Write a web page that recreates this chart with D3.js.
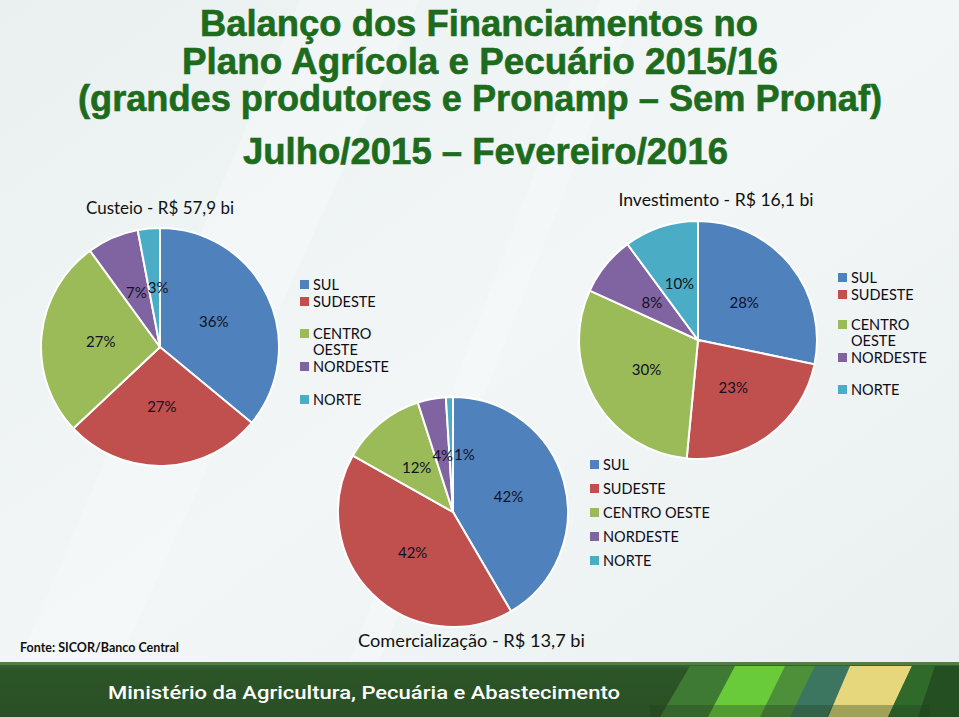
<!DOCTYPE html>
<html><head><meta charset="utf-8">
<script src="https://cdn.jsdelivr.net/npm/d3@7"></script>
<style>html,body{margin:0;padding:0;overflow:hidden;background:#eef3f3}</style>
</head><body>
<script>
const regions = ["SUL","SUDESTE","CENTRO OESTE","NORDESTE","NORTE"];
const regionColors = ["#4F81BD","#C0504D","#9BBB59","#8064A2","#4BACC6"];
const custeioValues = [36,27,27,7,3];
const investimentoValues = [28,23,30,8,10];
const comercializacaoValues = [42,42,12,4,1];
const titleLines = ["Balanço dos Financiamentos no","Plano Agrícola e Pecuário 2015/16","(grandes produtores e Pronamp – Sem Pronaf)"];
const periodText = "Julho/2015 – Fevereiro/2016";
const chartTitles = ["Custeio - R$ 57,9 bi","Investimento - R$ 16,1 bi","Comercialização - R$ 13,7 bi"];
const sourceText = "Fonte: SICOR/Banco Central";
const ministryText = "Ministério da Agricultura, Pecuária e Abastecimento";

const W=959,H=717;
const svg=d3.select("body").append("svg").attr("width",W).attr("height",H);
const defs=svg.append("defs");
const bg=defs.append("linearGradient").attr("id","bg").attr("x1","0").attr("y1","0").attr("x2","1").attr("y2","1");
bg.append("stop").attr("offset","0").attr("stop-color","#eaf0f0");
bg.append("stop").attr("offset","0.5").attr("stop-color","#f2f6f6");
bg.append("stop").attr("offset","1").attr("stop-color","#e9efef");
svg.append("rect").attr("width",W).attr("height",H).attr("fill","url(#bg)");
[[300,0,420,0,120,660,20,660],[600,0,640,0,380,660,350,660]].forEach(p=>{
  svg.append("polygon").attr("points",[[p[0],p[1]],[p[2],p[3]],[p[4],p[5]],[p[6],p[7]]].join(" ")).attr("fill","#ffffff").attr("opacity",0.25);
});

// titles
const tg=svg.append("g").attr("font-family","'Liberation Sans',Arial,sans-serif").attr("font-weight","bold")
  .attr("fill","#1d6b1d").attr("stroke","#1d6b1d").attr("stroke-width",0.6).attr("text-anchor","middle").attr("font-size",36);
const titleSpec=[{y:36,x:479,w:558},{y:74,x:480,w:596},{y:111,x:480,w:804}];
titleLines.forEach((t,i)=>tg.append("text").attr("x",titleSpec[i].x).attr("y",titleSpec[i].y)
  .attr("textLength",titleSpec[i].w).attr("lengthAdjust","spacingAndGlyphs").text(t));
tg.append("text").attr("x",485.5).attr("y",164).attr("textLength",485).attr("lengthAdjust","spacingAndGlyphs").text(periodText);

const FONT="Lato,'Open Sans',sans-serif";
const arcCfg=[
 {vals:custeioValues,cx:160,cy:347,r:119,title:chartTitles[0],tx:160,ty:214,fs:17,
  legend:{x:300,ys:[285,302,334,367,400],split:true,lh:16}},
 {vals:investimentoValues,cx:698,cy:340,r:119,title:chartTitles[1],tx:716,ty:206,fs:17.6,
  legend:{x:838,ys:[278,295,325,358,390],split:true,lh:16}},
 {vals:comercializacaoValues,cx:453,cy:512,r:115,title:chartTitles[2],tx:471.5,ty:647,fs:18.2,
  legend:{x:590,ys:[465,489,513,537,561],split:false,lh:16}}
];
const pie=d3.pie().sort(null).value(d=>d);
arcCfg.forEach(cfg=>{
  const g=svg.append("g").attr("transform",`translate(${cfg.cx},${cfg.cy})`);
  const arc=d3.arc().innerRadius(0).outerRadius(cfg.r);
  const la=d3.arc().innerRadius(cfg.r*0.5).outerRadius(cfg.r*0.5);
  const arcs=pie(cfg.vals);
  g.selectAll("path").data(arcs).join("path").attr("d",arc)
   .attr("fill",(d,i)=>regionColors[i]).attr("stroke","#ffffff").attr("stroke-width",2);
  const labels=g.selectAll("text").data(arcs).join("text")
   .attr("text-anchor","middle").attr("dy","0.35em")
   .attr("font-family",FONT).attr("font-size",15).attr("fill","#111122")
   .text(d=>d.data+"%");
  const pos=[];
  labels.each(function(d,i){
    const c=la.centroid(d);const w=this.getComputedTextLength();
    let x=c[0],y=c[1];
    if(i>0){const p=pos[i-1];
      if(Math.abs(p.y-y)<14 && Math.abs(p.x-x)<(p.w+w)/2+1){x=p.x+(p.w+w)/2+1;}
    }
    pos.push({x,y,w});
    d3.select(this).attr("transform",`translate(${x},${y})`);
  });
  svg.append("text").attr("x",cfg.tx).attr("y",cfg.ty).attr("text-anchor","middle")
   .attr("font-family",FONT).attr("font-size",cfg.fs).attr("fill","#111").text(cfg.title);
  const lg=svg.append("g").attr("font-family",FONT).attr("font-size",14.5).attr("fill","#0d0d1a");
  regions.forEach((r,i)=>{
    const y=cfg.legend.ys[i];
    lg.append("rect").attr("x",cfg.legend.x).attr("y",y-5).attr("width",9).attr("height",9).attr("fill",regionColors[i]);
    if(cfg.legend.split && r==="CENTRO OESTE"){
      lg.append("text").attr("x",cfg.legend.x+13).attr("y",y+5).text("CENTRO");
      lg.append("text").attr("x",cfg.legend.x+13).attr("y",y+5+cfg.legend.lh).text("OESTE");
    } else {
      lg.append("text").attr("x",cfg.legend.x+13).attr("y",y+5).text(r);
    }
  });
});

svg.append("text").attr("x",20).attr("y",652).attr("font-family",FONT).attr("font-size",12.5).attr("font-weight","bold").attr("fill","#111").text(sourceText);

// banner
const bn=defs.append("linearGradient").attr("id","bn").attr("x1","0").attr("y1","0").attr("x2","0").attr("y2","1");
bn.append("stop").attr("offset","0").attr("stop-color","#3a6a32");
bn.append("stop").attr("offset","0.15").attr("stop-color","#2c5527");
bn.append("stop").attr("offset","1").attr("stop-color","#2a4f26");
svg.append("rect").attr("x",0).attr("y",662).attr("width",W).attr("height",55).attr("fill","url(#bn)");
svg.append("rect").attr("x",0).attr("y",662).attr("width",W).attr("height",3).attr("fill","#4f7f45");
const stripes=[
 {p:[[690,666],[740,666],[715,717],[660,717]],c:"#3f7a34"},
 {p:[[735,666],[790,666],[765,717],[708,717]],c:"#6acb3a"},
 {p:[[785,666],[820,666],[795,717],[760,717]],c:"#4e8f3a"},
 {p:[[815,666],[852,666],[827,717],[790,717]],c:"#3c7560"},
 {p:[[850,666],[912,666],[888,717],[828,717]],c:"#e6d77c"},
 {p:[[912,666],[945,666],[925,717],[888,717]],c:"#2f6a2b"},
 {p:[[935,666],[959,666],[959,717],[918,717]],c:"#244f22"}
];
stripes.forEach(s=>svg.append("polygon").attr("points",s.p.map(q=>q.join(",")).join(" ")).attr("fill",s.c));
svg.append("rect").attr("x",650).attr("y",705).attr("width",280).attr("height",12).attr("fill","#1f3f1c").attr("opacity",0.35);
svg.append("text").attr("x",108).attr("y",699).attr("font-family","Roboto,sans-serif").attr("font-size",19).attr("font-weight",500)
 .attr("fill","#ffffff").attr("textLength",512).attr("lengthAdjust","spacingAndGlyphs").text(ministryText);
</script>
</body></html>
